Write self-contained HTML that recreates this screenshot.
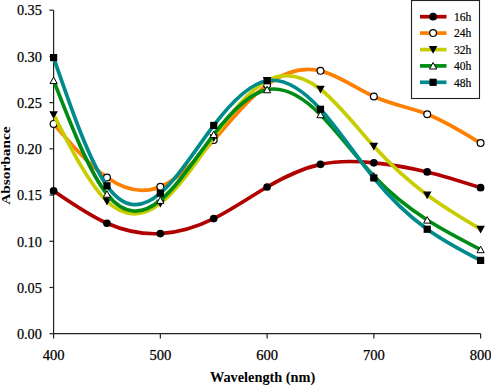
<!DOCTYPE html>
<html><head><meta charset="utf-8"><style>
html,body{margin:0;padding:0;background:#fff;width:491px;height:385px;overflow:hidden;font-family:"Liberation Serif",serif;}
svg{display:block;}
</style></head><body>
<svg width="491" height="385" viewBox="0 0 491 385"><g stroke="#222" stroke-width="1.2" fill="none">
<path d="M53.60,10.2 L53.60,333.70 L480.60,333.70"/>
<path d="M49.4,333.70 H53.60"/>
<path d="M49.4,287.49 H53.60"/>
<path d="M49.4,241.27 H53.60"/>
<path d="M49.4,195.05 H53.60"/>
<path d="M49.4,148.84 H53.60"/>
<path d="M49.4,102.62 H53.60"/>
<path d="M49.4,56.41 H53.60"/>
<path d="M49.4,10.19 H53.60"/>
<path d="M53.60,333.70 V338.6"/>
<path d="M160.35,333.70 V338.6"/>
<path d="M267.10,333.70 V338.6"/>
<path d="M373.85,333.70 V338.6"/>
<path d="M480.60,333.70 V338.6"/>
</g>
<g font-family="Liberation Serif" font-size="15" fill="#000" stroke="#000" stroke-width="0.25">
<text x="29.4" y="339.00" text-anchor="middle" textLength="25" lengthAdjust="spacingAndGlyphs">0.00</text>
<text x="29.4" y="292.79" text-anchor="middle" textLength="25" lengthAdjust="spacingAndGlyphs">0.05</text>
<text x="29.4" y="246.57" text-anchor="middle" textLength="25" lengthAdjust="spacingAndGlyphs">0.10</text>
<text x="29.4" y="200.35" text-anchor="middle" textLength="25" lengthAdjust="spacingAndGlyphs">0.15</text>
<text x="29.4" y="154.14" text-anchor="middle" textLength="25" lengthAdjust="spacingAndGlyphs">0.20</text>
<text x="29.4" y="107.92" text-anchor="middle" textLength="25" lengthAdjust="spacingAndGlyphs">0.25</text>
<text x="29.4" y="61.71" text-anchor="middle" textLength="25" lengthAdjust="spacingAndGlyphs">0.30</text>
<text x="29.4" y="15.49" text-anchor="middle" textLength="25" lengthAdjust="spacingAndGlyphs">0.35</text>
<text x="53.60" y="359.8" text-anchor="middle" textLength="21.9" lengthAdjust="spacingAndGlyphs">400</text>
<text x="160.35" y="359.8" text-anchor="middle" textLength="21.9" lengthAdjust="spacingAndGlyphs">500</text>
<text x="267.10" y="359.8" text-anchor="middle" textLength="21.9" lengthAdjust="spacingAndGlyphs">600</text>
<text x="373.85" y="359.8" text-anchor="middle" textLength="21.9" lengthAdjust="spacingAndGlyphs">700</text>
<text x="480.60" y="359.8" text-anchor="middle" textLength="21.9" lengthAdjust="spacingAndGlyphs">800</text>
</g>
<text x="262.6" y="381.6" font-family="Liberation Serif" font-weight="bold" font-size="14" text-anchor="middle" textLength="105.4" lengthAdjust="spacingAndGlyphs">Wavelength (nm)</text>
<text transform="translate(9.8,165.6) rotate(-90)" font-family="Liberation Serif" font-weight="bold" font-size="12.8" text-anchor="middle" textLength="78.3" lengthAdjust="spacingAndGlyphs">Absorbance</text>
<path d="M53.60,190.90 C71.39,203.15 89.18,215.41 106.97,223.25 C124.77,231.09 142.56,234.51 160.35,233.60 C178.14,232.69 195.93,227.45 213.72,218.62 C231.52,209.80 249.31,197.40 267.10,187.01 C284.89,176.63 302.68,168.27 320.48,164.37 C338.27,160.46 356.06,161.01 373.85,162.80 C391.64,164.58 409.43,167.60 427.22,171.95 C445.02,176.30 462.81,181.98 480.60,187.66" fill="none" stroke="#B00000" stroke-width="3.70" stroke-linejoin="round" stroke-linecap="round"/>
<circle cx="53.60" cy="190.90" r="3.85" fill="#000"/>
<circle cx="106.97" cy="223.25" r="3.85" fill="#000"/>
<circle cx="160.35" cy="233.60" r="3.85" fill="#000"/>
<circle cx="213.72" cy="218.62" r="3.85" fill="#000"/>
<circle cx="267.10" cy="187.01" r="3.85" fill="#000"/>
<circle cx="320.48" cy="164.37" r="3.85" fill="#000"/>
<circle cx="373.85" cy="162.80" r="3.85" fill="#000"/>
<circle cx="427.22" cy="171.95" r="3.85" fill="#000"/>
<circle cx="480.60" cy="187.66" r="3.85" fill="#000"/>
<path d="M53.60,123.88 C71.39,144.47 89.18,165.06 106.97,177.49 C124.77,189.93 142.56,194.22 160.35,186.83 C178.14,179.44 195.93,160.38 213.72,140.06 C231.52,119.74 249.31,98.16 267.10,84.88 C284.89,71.60 302.68,66.61 320.48,70.83 C338.27,75.04 356.06,88.46 373.85,96.52 C391.64,104.59 409.43,107.31 427.22,114.18 C445.02,121.05 462.81,132.08 480.60,143.11" fill="none" stroke="#FF7F00" stroke-width="3.70" stroke-linejoin="round" stroke-linecap="round"/>
<circle cx="53.60" cy="123.88" r="3.4" fill="#fff" stroke="#000" stroke-width="1.2"/>
<circle cx="106.97" cy="177.49" r="3.4" fill="#fff" stroke="#000" stroke-width="1.2"/>
<circle cx="160.35" cy="186.83" r="3.4" fill="#fff" stroke="#000" stroke-width="1.2"/>
<circle cx="213.72" cy="140.06" r="3.4" fill="#fff" stroke="#000" stroke-width="1.2"/>
<circle cx="267.10" cy="84.88" r="3.4" fill="#fff" stroke="#000" stroke-width="1.2"/>
<circle cx="320.48" cy="70.83" r="3.4" fill="#fff" stroke="#000" stroke-width="1.2"/>
<circle cx="373.85" cy="96.52" r="3.4" fill="#fff" stroke="#000" stroke-width="1.2"/>
<circle cx="427.22" cy="114.18" r="3.4" fill="#fff" stroke="#000" stroke-width="1.2"/>
<circle cx="480.60" cy="143.11" r="3.4" fill="#fff" stroke="#000" stroke-width="1.2"/>
<path d="M53.60,114.64 C71.39,149.47 89.18,184.30 106.97,201.25 C124.77,218.20 142.56,217.26 160.35,203.37 C178.14,189.49 195.93,162.64 213.72,137.75 C231.52,112.85 249.31,89.91 267.10,80.53 C284.89,71.16 302.68,75.35 320.48,89.22 C338.27,103.10 356.06,126.65 373.85,146.34 C391.64,166.04 409.43,181.88 427.22,195.06 C445.02,208.23 462.81,218.74 480.60,229.25" fill="none" stroke="#C8CD00" stroke-width="3.70" stroke-linejoin="round" stroke-linecap="round"/>
<path d="M49.30,111.14 L57.90,111.14 L53.60,118.84 Z" fill="#000"/>
<path d="M102.67,197.75 L111.27,197.75 L106.97,205.45 Z" fill="#000"/>
<path d="M156.05,199.87 L164.65,199.87 L160.35,207.57 Z" fill="#000"/>
<path d="M209.42,134.25 L218.02,134.25 L213.72,141.95 Z" fill="#000"/>
<path d="M262.80,77.03 L271.40,77.03 L267.10,84.73 Z" fill="#000"/>
<path d="M316.18,85.72 L324.78,85.72 L320.48,93.42 Z" fill="#000"/>
<path d="M369.55,142.84 L378.15,142.84 L373.85,150.54 Z" fill="#000"/>
<path d="M422.92,191.56 L431.52,191.56 L427.22,199.25 Z" fill="#000"/>
<path d="M476.30,225.75 L484.90,225.75 L480.60,233.45 Z" fill="#000"/>
<path d="M53.60,80.44 C71.39,126.20 89.18,171.95 106.97,194.13 C124.77,216.31 142.56,214.92 160.35,200.23 C178.14,185.55 195.93,157.57 213.72,134.51 C231.52,111.46 249.31,93.33 267.10,89.68 C284.89,86.04 302.68,96.89 320.48,114.64 C338.27,132.39 356.06,157.03 373.85,176.11 C391.64,195.18 409.43,208.69 427.22,220.01 C445.02,231.33 462.81,240.46 480.60,249.59" fill="none" stroke="#008C14" stroke-width="3.70" stroke-linejoin="round" stroke-linecap="round"/>
<path d="M50.00,83.54 L57.20,83.54 L53.60,77.04 Z" fill="#fff" stroke="#000" stroke-width="1"/>
<path d="M103.38,197.23 L110.57,197.23 L106.97,190.73 Z" fill="#fff" stroke="#000" stroke-width="1"/>
<path d="M156.75,203.33 L163.95,203.33 L160.35,196.83 Z" fill="#fff" stroke="#000" stroke-width="1"/>
<path d="M210.12,137.61 L217.32,137.61 L213.72,131.11 Z" fill="#fff" stroke="#000" stroke-width="1"/>
<path d="M263.50,92.78 L270.70,92.78 L267.10,86.28 Z" fill="#fff" stroke="#000" stroke-width="1"/>
<path d="M316.88,117.74 L324.08,117.74 L320.48,111.24 Z" fill="#fff" stroke="#000" stroke-width="1"/>
<path d="M370.25,179.21 L377.45,179.21 L373.85,172.71 Z" fill="#fff" stroke="#000" stroke-width="1"/>
<path d="M423.62,223.11 L430.82,223.11 L427.22,216.61 Z" fill="#fff" stroke="#000" stroke-width="1"/>
<path d="M477.00,252.69 L484.20,252.69 L480.60,246.19 Z" fill="#fff" stroke="#000" stroke-width="1"/>
<path d="M53.60,57.61 C71.39,109.29 89.18,160.98 106.97,185.81 C124.77,210.65 142.56,208.63 160.35,193.21 C178.14,177.78 195.93,148.95 213.72,125.46 C231.52,101.96 249.31,83.79 267.10,80.72 C284.89,77.65 302.68,89.67 320.48,109.28 C338.27,128.89 356.06,156.08 373.85,177.96 C391.64,199.83 409.43,216.40 427.22,229.25 C445.02,242.11 462.81,251.26 480.60,260.40" fill="none" stroke="#008B8B" stroke-width="3.70" stroke-linejoin="round" stroke-linecap="round"/>
<rect x="50.00" y="54.01" width="7.2" height="7.2" fill="#000"/>
<rect x="103.38" y="182.21" width="7.2" height="7.2" fill="#000"/>
<rect x="156.75" y="189.61" width="7.2" height="7.2" fill="#000"/>
<rect x="210.12" y="121.86" width="7.2" height="7.2" fill="#000"/>
<rect x="263.50" y="77.12" width="7.2" height="7.2" fill="#000"/>
<rect x="316.88" y="105.68" width="7.2" height="7.2" fill="#000"/>
<rect x="370.25" y="174.36" width="7.2" height="7.2" fill="#000"/>
<rect x="423.62" y="225.65" width="7.2" height="7.2" fill="#000"/>
<rect x="477.00" y="256.80" width="7.2" height="7.2" fill="#000"/>
<rect x="411.5" y="0.5" width="68" height="98" fill="#fff" stroke="#222" stroke-width="1.1"/>
<path d="M420,16.70 H446.5" stroke="#B00000" stroke-width="3.70"/>
<circle cx="433.10" cy="16.70" r="3.85" fill="#000"/>
<text x="454.0" y="21.00" font-family="Liberation Serif" font-size="13" fill="#000" stroke="#000" stroke-width="0.2" textLength="17.4" lengthAdjust="spacingAndGlyphs">16h</text>
<path d="M420,33.10 H446.5" stroke="#FF7F00" stroke-width="3.70"/>
<circle cx="433.10" cy="33.10" r="3.4" fill="#fff" stroke="#000" stroke-width="1.2"/>
<text x="454.0" y="37.40" font-family="Liberation Serif" font-size="13" fill="#000" stroke="#000" stroke-width="0.2" textLength="17.4" lengthAdjust="spacingAndGlyphs">24h</text>
<path d="M420,49.60 H446.5" stroke="#C8CD00" stroke-width="3.70"/>
<path d="M428.80,46.10 L437.40,46.10 L433.10,53.80 Z" fill="#000"/>
<text x="454.0" y="53.90" font-family="Liberation Serif" font-size="13" fill="#000" stroke="#000" stroke-width="0.2" textLength="17.4" lengthAdjust="spacingAndGlyphs">32h</text>
<path d="M420,65.90 H446.5" stroke="#008C14" stroke-width="3.70"/>
<path d="M429.50,69.00 L436.70,69.00 L433.10,62.50 Z" fill="#fff" stroke="#000" stroke-width="1"/>
<text x="454.0" y="70.20" font-family="Liberation Serif" font-size="13" fill="#000" stroke="#000" stroke-width="0.2" textLength="17.4" lengthAdjust="spacingAndGlyphs">40h</text>
<path d="M420,82.30 H446.5" stroke="#008B8B" stroke-width="3.70"/>
<rect x="429.50" y="78.70" width="7.2" height="7.2" fill="#000"/>
<text x="454.0" y="86.60" font-family="Liberation Serif" font-size="13" fill="#000" stroke="#000" stroke-width="0.2" textLength="17.4" lengthAdjust="spacingAndGlyphs">48h</text></svg>
</body></html>
